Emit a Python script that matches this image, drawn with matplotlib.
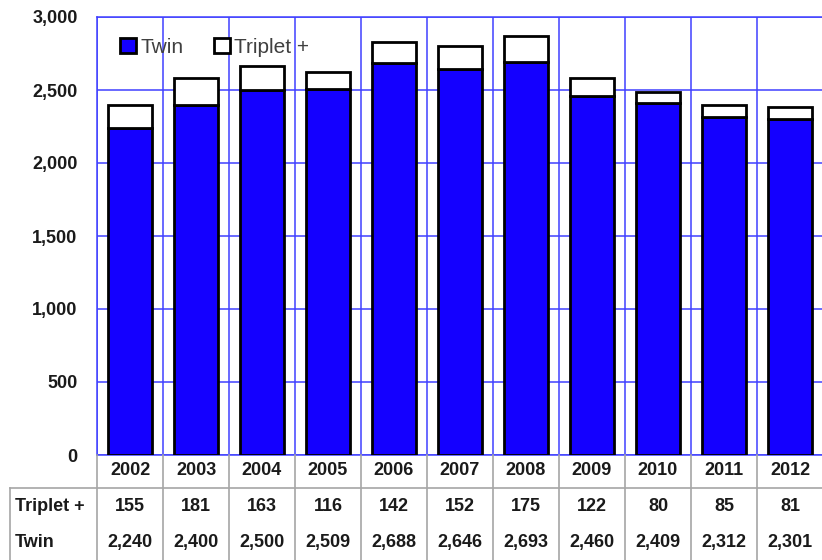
import numpy as np
import matplotlib
matplotlib.use('Agg')
import matplotlib.pyplot as plt
from matplotlib.patches import Patch

plt.rcParams['font.family'] = ['Liberation Sans', 'DejaVu Sans']

years = ['2002', '2003', '2004', '2005', '2006', '2007', '2008', '2009', '2010', '2011', '2012']
twin = [2240, 2400, 2500, 2509, 2688, 2646, 2693, 2460, 2409, 2312, 2301]
triplet = [155, 181, 163, 116, 142, 152, 175, 122, 80, 85, 81]

W, H = 822, 560
blue = '#1400ff'
grid_c = '#4040ff'
table_c = '#a6a6a6'
txt_c = '#1a1a1a'

fig = plt.figure(figsize=(W / 100, H / 100), dpi=100)

# plot area in pixels: x 97..823, y 17..455
px_l, px_r, px_t, px_b = 97, 823, 17, 455
ax = fig.add_axes([px_l / W, 1 - px_b / H, (px_r - px_l) / W, (px_b - px_t) / H])

x = np.arange(len(years))
ax.bar(x, twin, width=0.68, color=blue, edgecolor='black', linewidth=2, zorder=3)
ax.bar(x, triplet, bottom=twin, width=0.68, color='white', edgecolor='black', linewidth=2, zorder=3)

ax.set_xlim(-0.5, len(years) - 0.5)
ax.set_ylim(0, 3000)
ax.set_yticks(np.arange(0, 3001, 500))
ax.set_yticklabels([f'{v:,}' for v in range(0, 3001, 500)], fontsize=13, fontweight='bold', color=txt_c)
ax.tick_params(axis='y', length=0, pad=14)
ax.set_xticks(np.arange(len(years) + 1) - 0.5, minor=False)
ax.tick_params(axis='x', length=0, labelbottom=False)
ax.grid(True, color=grid_c, linewidth=1.1, zorder=0)
for s in ax.spines.values():
    s.set_color(grid_c)
    s.set_linewidth(1.1)

leg = ax.legend(handles=[Patch(facecolor=blue, edgecolor='black', linewidth=2, label='Twin'),
                         Patch(facecolor='white', edgecolor='black', linewidth=2, label='Triplet +')],
                loc='upper left', bbox_to_anchor=(0.032, 0.953), ncol=2, frameon=False,
                borderaxespad=0, borderpad=0,
                handlelength=0.75, handleheight=0.75, handletextpad=0.2, columnspacing=1.5,
                prop={'size': 15})
for t in leg.get_texts():
    t.set_color('#404040')

# data table below the chart, pixel coords for y
tx_l = 10
col_w = (px_r - px_l) / len(years)
tax = fig.add_axes([tx_l / W, 0, (px_r - tx_l) / W, 1 - px_b / H])
x_left = -0.5 - (px_l - tx_l) / col_w
tax.set_xlim(x_left, len(years) - 0.5)
tax.set_ylim(H, px_b)
tax.axis('off')

row_top = 488
for i in range(len(years) + 1):
    tax.plot([i - 0.5, i - 0.5], [px_b, H], color=table_c, lw=1.2, clip_on=False)
tax.plot([x_left] * 2, [row_top, H], color=table_c, lw=1.2, clip_on=False)
tax.plot([x_left, len(years) - 0.5], [row_top, row_top], color=table_c, lw=1.2, clip_on=False)

for i, yr in enumerate(years):
    tax.text(i, 471, yr, ha='center', va='center', fontsize=13, fontweight='bold', color=txt_c)
    tax.text(i, 507, f'{triplet[i]:,}', ha='center', va='center', fontsize=13, fontweight='bold', color=txt_c)
    tax.text(i, 543, f'{twin[i]:,}', ha='center', va='center', fontsize=13, fontweight='bold', color=txt_c)

lab_x = -0.5 - (px_l - tx_l - 5) / col_w
tax.text(lab_x, 507, 'Triplet +', ha='left', va='center', fontsize=13, fontweight='bold', color=txt_c)
tax.text(lab_x, 543, 'Twin', ha='left', va='center', fontsize=13, fontweight='bold', color=txt_c)

fig.savefig('out.png', dpi=100)
